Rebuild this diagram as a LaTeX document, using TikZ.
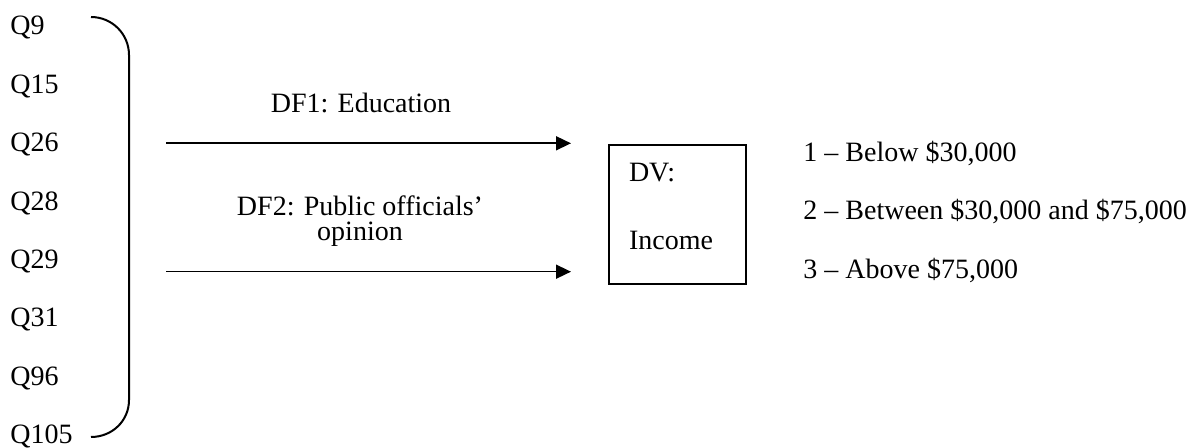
\documentclass[tikz,border=0pt]{standalone}
\usepackage{fontspec}
\setmainfont{Liberation Serif}
\usetikzlibrary{arrows.meta}
\begin{document}
\begin{tikzpicture}[x=0.5pt,y=-0.5pt,
  lbl/.style={inner sep=0pt,font=\fontsize{14}{16.8}\selectfont},
  arr/.style={line width=0.8pt,-{Triangle[length=7.5pt,width=7pt]}},
  brace/.style={line width=1pt},
  dvbox/.style={draw,line width=1pt,anchor=north west,inner xsep=10pt,inner ysep=9.25pt,
    text width=48.5pt,align=left,text depth=41.75pt,
    font=\fontsize{14}{34}\selectfont}]
\useasboundingbox (0,0) rectangle (1195,448);
% question labels
\foreach \q [count=\i from 0] in {Q9,Q15,Q26,Q28,Q29,Q31,Q96,Q105}
  \node[lbl,anchor=base west] (q\q) at (10,34.9+58.4*\i) {\q};
% brace
\draw[brace] (91,17) .. controls (112,17) and (129,34) .. (129,55)
  -- (129,400) .. controls (129,421) and (112,437) .. (91,437);
% arrows
\coordinate (a1s) at (166,143.3);
\coordinate (a1e) at (571,143.3);
\coordinate (a2s) at (166,271.7);
\coordinate (a2e) at (571,271.7);
\draw[arr] (a1s) -- (a1e);
\draw[arr] (a2s) -- (a2e);
\node[lbl,anchor=base] (df1) at (361,113) {DF1: Education};
\node[lbl,anchor=north,align=center,font=\fontsize{14}{12.5}\selectfont] (df2) at (360,195)
  {DF2: Public officials’\\opinion};
% DV box
\node[dvbox] (dv) at (608,144) {DV:\\Income};
% income categories
\node[lbl,anchor=base west] (c1) at (803,161.7) {1 – Below \$30,000};
\node[lbl,anchor=base west] (c2) at (803,220) {2 – Between \$30,000 and \$75,000};
\node[lbl,anchor=base west] (c3) at (803,278.5) {3 – Above \$75,000};
\end{tikzpicture}
\end{document}
